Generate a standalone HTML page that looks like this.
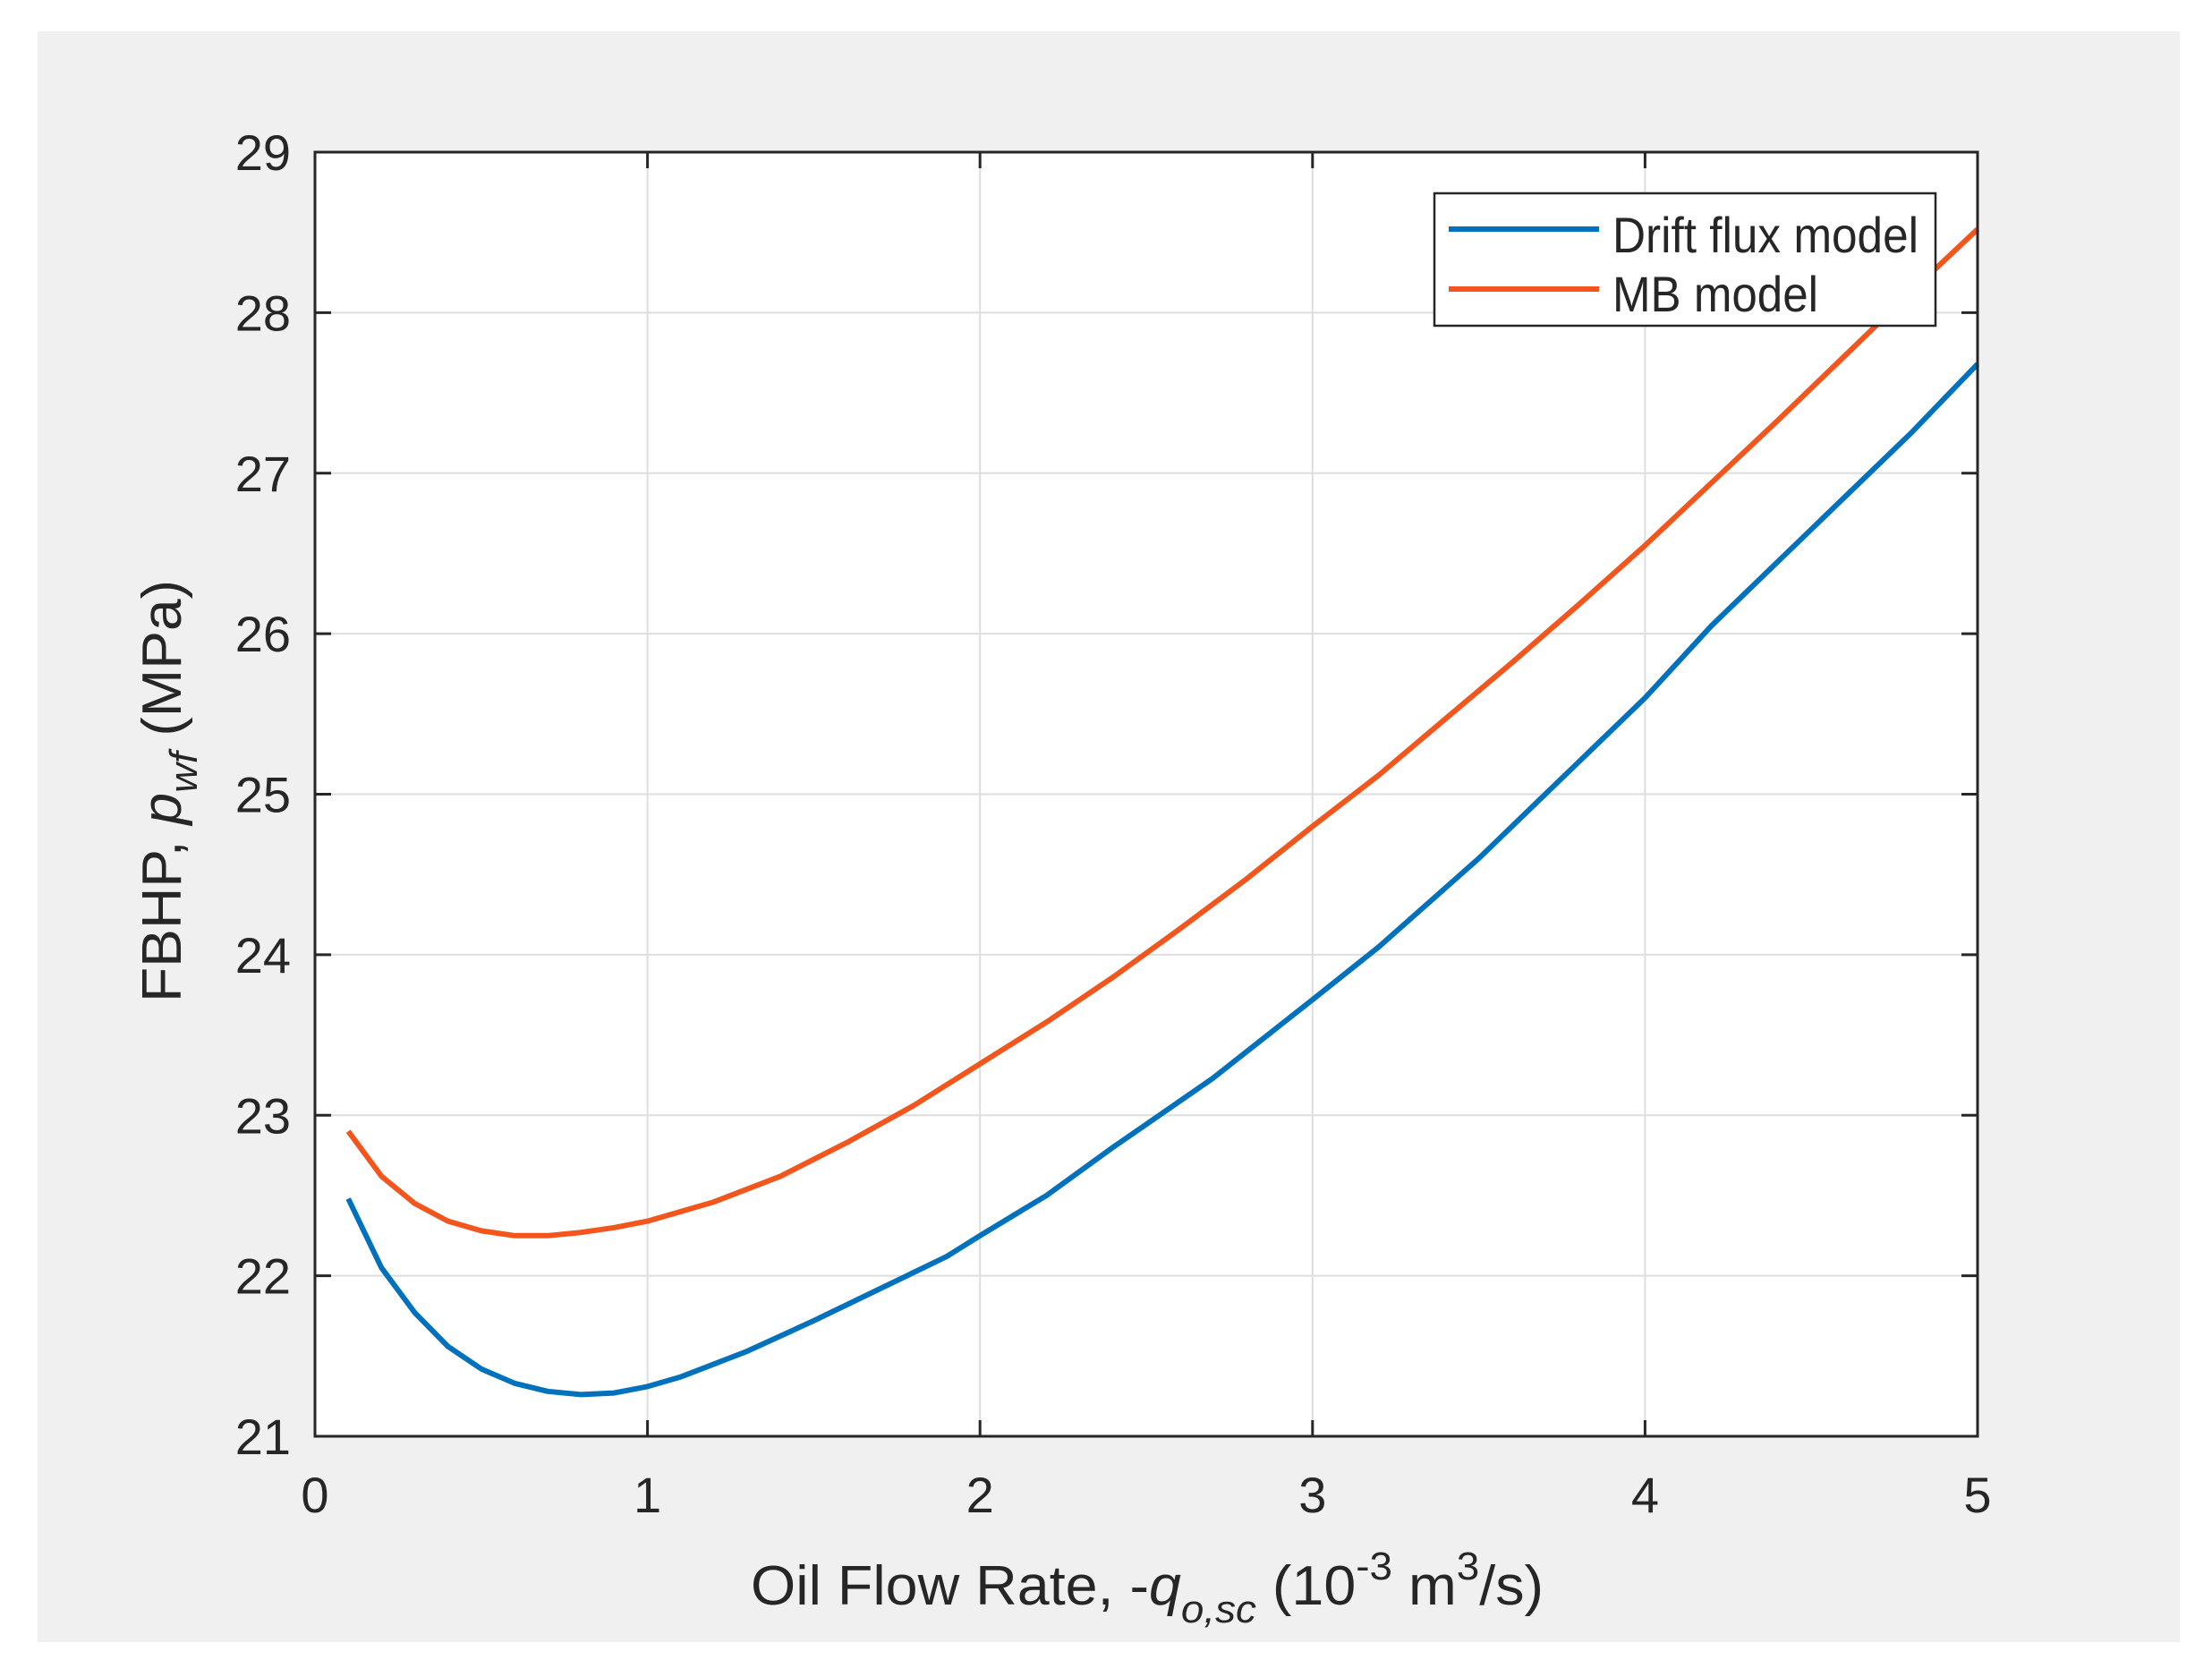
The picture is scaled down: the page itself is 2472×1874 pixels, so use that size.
<!DOCTYPE html>
<html><head><meta charset="utf-8"><style>
html,body{margin:0;padding:0;background:#fff;}
svg{display:block;}
text{font-family:"Liberation Sans",Arial,sans-serif;fill:#262626;}
</style></head><body>
<svg id="chart" width="2472" height="1874" viewBox="0 0 2472 1874" xmlns="http://www.w3.org/2000/svg">
<rect x="42" y="35" width="2394" height="1800" fill="#f0f0f0"/>
<rect x="352" y="170" width="1858" height="1435" fill="#ffffff"/>
<g id="grid"></g>
<g id="series"></g>
<rect x="352" y="170" width="1858" height="1435" fill="none" stroke="#262626" stroke-width="3"/>
<g id="ticks"></g>
<text x="839" y="1793" font-size="62" textLength="886" lengthAdjust="spacingAndGlyphs">Oil Flow Rate, -<tspan font-style="italic">q</tspan><tspan font-style="italic" font-size="44" dy="20">o,sc</tspan><tspan dy="-20"> (10</tspan><tspan font-size="44" dy="-28">-3</tspan><tspan dy="28"> m</tspan><tspan font-size="44" dy="-28">3</tspan><tspan dy="28">/s)</tspan></text>
<text transform="translate(202,1120) rotate(-90)" x="0" y="0" font-size="62" textLength="472" lengthAdjust="spacingAndGlyphs">FBHP, <tspan font-style="italic">p</tspan><tspan font-style="italic" font-size="44" dy="18">wf</tspan><tspan dy="-18"> (MPa)</tspan></text>
<g>
<rect x="1603" y="216" width="560" height="148" fill="#fff" stroke="#262626" stroke-width="2.5"/>
<line x1="1619" y1="256" x2="1787" y2="256" stroke="#0072BD" stroke-width="6"/>
<text x="1802" y="282" font-size="56" textLength="342" lengthAdjust="spacingAndGlyphs">Drift flux model</text>
<line x1="1619" y1="323" x2="1787" y2="323" stroke="#F2561D" stroke-width="6"/>
<text x="1802" y="348" font-size="56" textLength="230" lengthAdjust="spacingAndGlyphs">MB model</text>
</g>
</svg>
<script>
const xTicks = [0, 1, 2, 3, 4, 5];
const yTicks = [21, 22, 23, 24, 25, 26, 27, 28, 29];
const driftX = [0.1,0.2,0.3,0.4,0.5,0.6,0.7,0.8,0.9,1.0,1.1,1.2,1.3,1.5,1.7,1.9,2.0,2.2,2.4,2.7,3.0,3.2,3.5,3.8,4.0,4.2,4.5,4.8,5.0];
const driftY = [22.48,22.05,21.77,21.56,21.42,21.33,21.28,21.26,21.27,21.31,21.37,21.45,21.53,21.72,21.92,22.12,22.25,22.5,22.8,23.23,23.72,24.05,24.6,25.2,25.6,26.05,26.65,27.25,27.68];
const mbX = [0.1,0.2,0.3,0.4,0.5,0.6,0.7,0.8,0.9,1.0,1.2,1.4,1.6,1.8,2.0,2.2,2.4,2.6,2.8,3.0,3.2,3.4,3.6,3.8,4.0,4.2,4.4,4.6,4.8,5.0];
const mbY = [22.9,22.62,22.45,22.34,22.28,22.25,22.25,22.27,22.3,22.34,22.46,22.62,22.83,23.06,23.32,23.58,23.86,24.16,24.47,24.8,25.12,25.47,25.82,26.18,26.55,26.94,27.33,27.73,28.13,28.52];

const L=352,R=2210,T=170,B=1605,X0=0,X1=5,Y0=21,Y1=29;
const sx=v=>L+(v-X0)/(X1-X0)*(R-L);
const sy=v=>B-(v-Y0)/(Y1-Y0)*(B-T);
const NS='http://www.w3.org/2000/svg';
function mk(tag,attrs,parent){const e=document.createElementNS(NS,tag);for(const k in attrs)e.setAttribute(k,attrs[k]);parent.appendChild(e);return e;}
const grid=document.getElementById('grid'),ticks=document.getElementById('ticks'),series=document.getElementById('series');
xTicks.forEach(t=>{
  const x=sx(t);
  if(t>X0&&t<X1){const g=mk('line',{x1:x,y1:T,x2:x,y2:B,stroke:'#dedede','stroke-width':2},grid);
  
  }
  const a=mk('line',{x1:x,y1:B,x2:x,y2:B-18,stroke:'#262626','stroke-width':3},ticks);
  
  
  const b=mk('line',{x1:x,y1:T,x2:x,y2:T+18,stroke:'#262626','stroke-width':3},ticks);
  
  
  const lb=mk('text',{x:x,y:1690,'font-size':56,'text-anchor':'middle'},ticks);lb.textContent=t;
  
  
});
yTicks.forEach(t=>{
  const y=sy(t);
  if(t>Y0&&t<Y1){const g=mk('line',{x1:L,y1:y,x2:R,y2:y,stroke:'#dedede','stroke-width':2},grid);
  
  }
  const a=mk('line',{x1:L,y1:y,x2:L+18,y2:y,stroke:'#262626','stroke-width':3},ticks);
  
  
  const b=mk('line',{x1:R,y1:y,x2:R-18,y2:y,stroke:'#262626','stroke-width':3},ticks);
  
  
  const lb=mk('text',{x:325,y:y+20,'font-size':56,'text-anchor':'end'},ticks);lb.textContent=t;
  
  
});
function path(xs,ys){return xs.map((x,i)=>(i?'L':'M')+sx(x).toFixed(1)+','+sy(ys[i]).toFixed(1)).join(' ');}
const p1=mk('path',{d:path(driftX,driftY),fill:'none',stroke:'#0072BD','stroke-width':6,'stroke-linejoin':'round'},series);


const p2=mk('path',{d:path(mbX,mbY),fill:'none',stroke:'#F2561D','stroke-width':6,'stroke-linejoin':'round'},series);


</script>
</body></html>
